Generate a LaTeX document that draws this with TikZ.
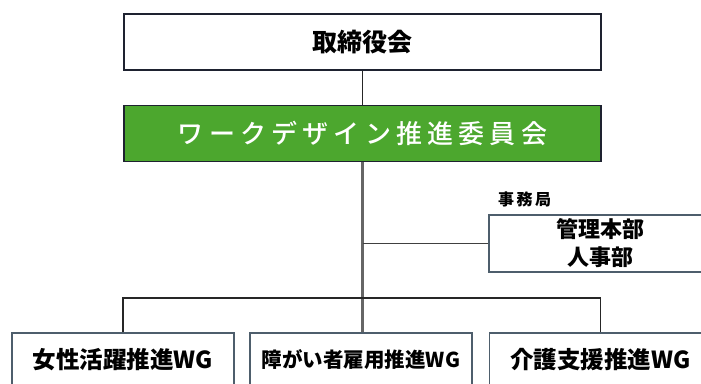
\documentclass[tikz,border=0pt]{standalone}
\usepackage{fontspec}
\newfontfamily\jp{Noto Sans CJK JP}
\newfontfamily\jpm{Noto Sans CJK JP Medium}
\definecolor{grn}{HTML}{4CA72E}
\definecolor{boxline}{HTML}{1E2230}
\definecolor{slate}{HTML}{4E5E6C}
\definecolor{trunk}{HTML}{666666}
\tikzset{
  mainbox/.style={draw=boxline, line width=1.6pt, minimum width=477pt, minimum height=56pt, inner sep=0pt},
  subbox/.style={draw=slate, line width=1.3pt, minimum width=222pt, minimum height=56pt, inner sep=0pt, align=center},
  conn/.style={draw=black!85, line width=1.3pt},
}
\begin{document}
\begin{tikzpicture}[x=1pt,y=-1pt]
\useasboundingbox (0,0) rectangle (701,383);
\fill[white] (0,0) rectangle (701,383);
\node[mainbox, fill=white, font=\jp\bfseries\fontsize{25}{30}\selectfont] (top) at (362.5,42) {取締役会};
\node[mainbox, fill=grn, text=white, font=\jpm\fontsize{26}{30}\selectfont\addfontfeature{LetterSpace=20}] (green) at (362.5,133.5) {ワークデザイン推進委員会};
\node[subbox, minimum width=223pt, minimum height=57pt, font=\jp\bfseries\fontsize{22}{28}\selectfont] (office) at (600.5,243.5) {管理本部\\人事部};
\node[anchor=west, inner sep=0pt, font=\jp\bfseries\fontsize{16}{18}\selectfont\addfontfeature{LetterSpace=15}] (jim) at (498,199) {事務局};
\node[subbox, minimum height=54pt, font=\jp\bfseries\fontsize{23.5}{28}\selectfont] (b1) at (123,360) {女性活躍推進WG};
\node[subbox, minimum height=54pt, font=\jp\bfseries\fontsize{20.5}{28}\selectfont] (b2) at (361,360) {障がい者雇用推進WG};
\node[subbox, minimum height=54pt, font=\jp\bfseries\fontsize{23.5}{28}\selectfont] (b3) at (600.5,360) {介護支援推進WG};
\coordinate (bar) at (362,298);
\draw[conn] (top.south) -- (green.north);
\draw[draw=trunk, line width=2.5pt] (green.south) -- (green.south |- b2.north);
\draw[conn, draw=black!75] (green.south |- office.west) -- (office.west);
\draw[conn] (b1.north) |- (bar) -| (b3.north);
\end{tikzpicture}
\end{document}
